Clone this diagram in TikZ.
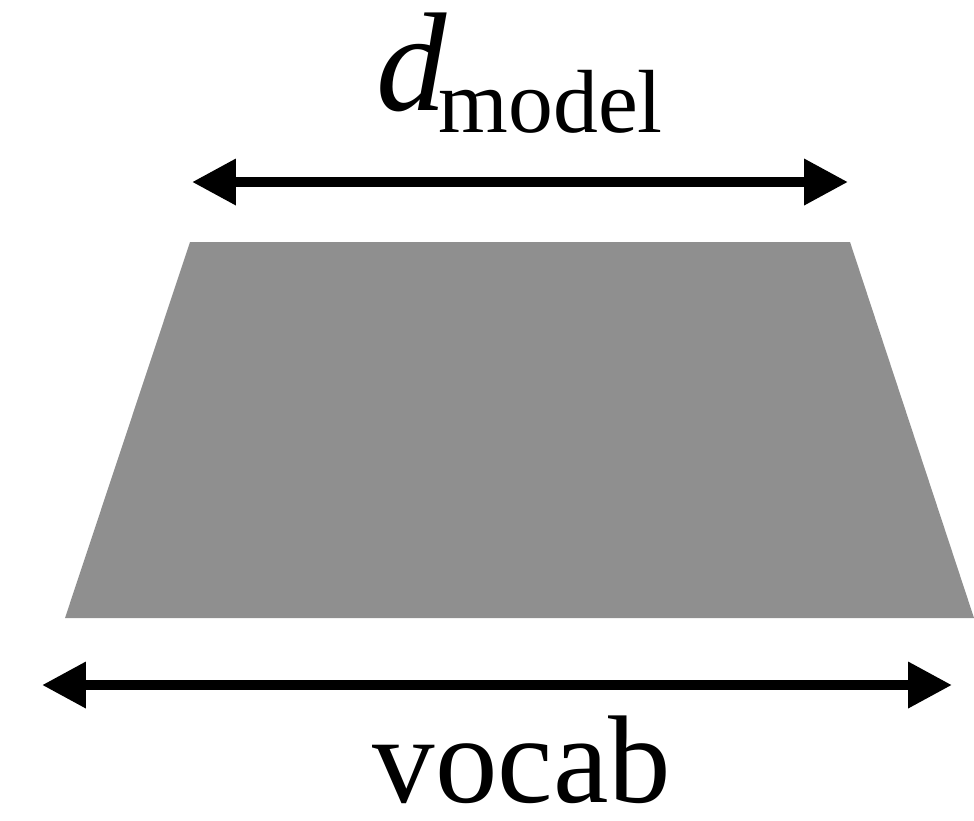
\documentclass[tikz,border=0pt]{standalone}
\usepackage{fontspec}
\setmainfont{Liberation Serif}
\usepackage{xcolor}
\usepackage{tikz}
\usetikzlibrary{arrows.meta, calc, positioning}
\definecolor{slabgray}{HTML}{8F8F8F}
\tikzset{
    dimarrow/.style={{Triangle[length=12.5pt, width=12.5pt]}-{Triangle[length=12.5pt, width=12.5pt]}, line width=2.85pt},
    dimlabel/.style={inner sep=0pt, anchor=base},
    slab/.style={fill=slabgray, draw=none},
}
\begin{document}
\begin{tikzpicture}[x=0.01cm, y=-0.01cm]
        \useasboundingbox (0,0) rectangle (974,820);
        % trapezoid corners
        \coordinate (tl) at (190,242);
        \coordinate (tr) at (850,242);
        \coordinate (br) at (974,618);
        \coordinate (bl) at (65,618);
        \fill[slab] (tl) -- (tr) -- (br) -- (bl) -- cycle;
        % dimension arrows
        \coordinate (topL) at (192,182);
        \coordinate (topR) at (848,182);
        \coordinate (botL) at (42,685);
        \coordinate (botR) at (952,685);
        \draw[dimarrow] (topL) -- (topR);
        \draw[dimarrow] (botL) -- (botR);
        % labels
        \node[dimlabel, anchor=base west, font=\fontsize{40}{40}\selectfont\itshape] (dsym) at (376,110) {d};
        \node[dimlabel, anchor=base west, font=\fontsize{25.5}{25.5}\selectfont] (dsub) at (438,132) {model};
        \node[dimlabel, font=\fontsize{35.5}{35.5}\selectfont] (vocab) at (522,802) {vocab};
    \end{tikzpicture}
\end{document}
